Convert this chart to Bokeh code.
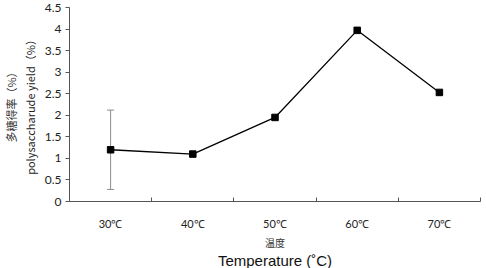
from bokeh.plotting import figure
from bokeh.models import FixedTicker, Whisker, ColumnDataSource, TeeHead, Title, Range1d
from bokeh.embed import file_html
from bokeh.resources import INLINE

categories = ["30℃", "40℃", "50℃", "60℃", "70℃"]
yield_pct = [1.2, 1.1, 1.95, 3.97, 2.53]
err_upper = [2.12, None, None, None, None]
err_lower = [0.28, None, None, None, None]
y_ticks = [0, 0.5, 1, 1.5, 2, 2.5, 3, 3.5, 4, 4.5]

xs = list(range(len(categories)))

p = figure(width=486, height=268, output_backend="svg", toolbar_location=None,
           x_range=Range1d(-0.5, len(categories) - 0.5), y_range=Range1d(0, 4.5),
           min_border_left=67, min_border_right=6, min_border_top=7, min_border_bottom=67)
p.outline_line_color = None
p.xgrid.visible = False
p.ygrid.visible = False
p.background_fill_color = "white"

# Error bar
eb = ColumnDataSource(dict(x=[xs[i] for i in range(len(xs)) if err_upper[i] is not None],
                           u=[v for v in err_upper if v is not None],
                           l=[v for v in err_lower if v is not None]))
w = Whisker(source=eb, base="x", upper="u", lower="l", line_color="#8c8c8c", line_width=1,
            upper_head=TeeHead(size=7, line_color="#8c8c8c", line_width=1),
            lower_head=TeeHead(size=7, line_color="#8c8c8c", line_width=1))
p.add_layout(w)

p.line(xs, yield_pct, line_color="black", line_width=1.3)
p.scatter(xs, yield_pct, marker="square", size=6.5, fill_color="black", line_color="black")

# X axis
xa = p.xaxis[0]
xa.ticker = FixedTicker(ticks=xs, minor_ticks=[i + 0.5 for i in xs])
xa.major_label_overrides = {i: c for i, c in enumerate(categories)}
xa.major_tick_in = 0
xa.major_tick_out = 0
xa.minor_tick_in = 4
xa.minor_tick_out = 0
xa.minor_tick_line_color = "#555555"
xa.axis_line_color = "#555555"
xa.major_label_text_font = "Lato"
xa.major_label_text_font_size = "11px"
xa.major_label_text_color = "#222222"
xa.major_label_standoff = 15

# Y axis
ya = p.yaxis[0]
ya.ticker = FixedTicker(ticks=y_ticks)
ya.major_label_overrides = {v: ("%g" % v) for v in y_ticks}
ya.major_tick_in = 0
ya.major_tick_out = 4
ya.minor_tick_line_color = None
ya.major_tick_line_color = "#555555"
ya.axis_line_color = "#555555"
ya.major_label_text_font = "Lato"
ya.major_label_text_font_size = "12px"
ya.major_label_text_color = "#222222"
ya.major_label_standoff = 4
ya.axis_label = "polysaccharude yield（%）"
ya.axis_label_text_font = "Noto Sans CJK SC"
ya.axis_label_text_font_style = "normal"
ya.axis_label_text_font_size = "11px"
ya.axis_label_text_color = "#222222"
ya.axis_label_standoff = 4

p.add_layout(Title(text="多糖得率（%）", align="center", text_font="Noto Sans CJK SC",
                   text_font_size="11px", text_font_style="normal", text_color="#333333",
                   standoff=0, offset=0), "left")

p.add_layout(Title(text="温度", align="center", text_font="Noto Sans CJK SC",
                   text_font_size="10px", text_font_style="normal", text_color="#333333",
                   standoff=0), "below")
p.add_layout(Title(text="Temperature (˚C)", align="center", text_font="Liberation Sans",
                   text_font_size="15px", text_font_style="normal", text_color="#111111",
                   standoff=0), "below")

open("out.html", "w").write(file_html(p, INLINE))
